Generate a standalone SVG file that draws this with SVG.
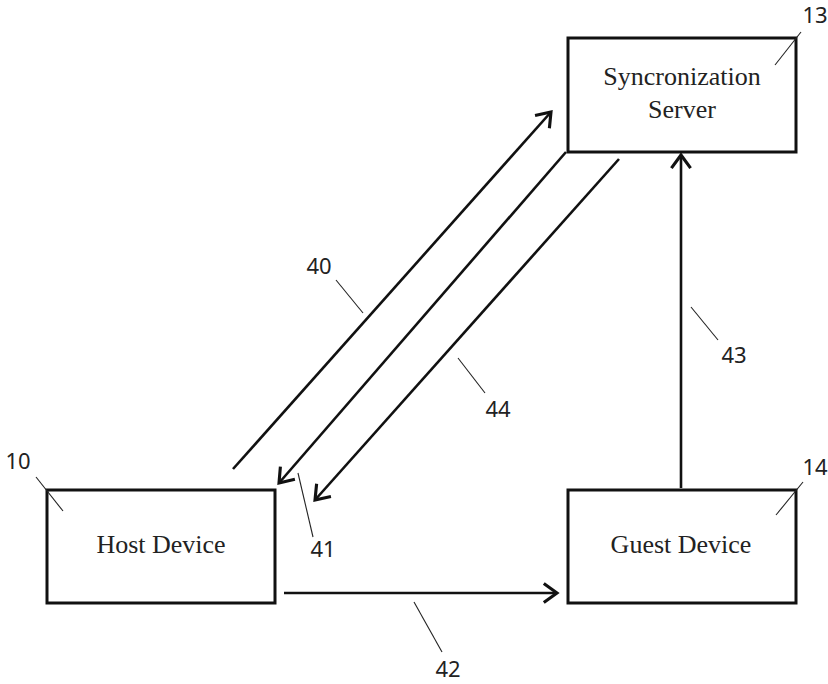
<svg xmlns="http://www.w3.org/2000/svg" width="828" height="684" viewBox="0 0 828 684">
<defs>
<style>
.box{fill:#fff;stroke:#111;stroke-width:3}
.lbl{font-family:"Liberation Serif","Times New Roman",serif;font-size:26px;fill:#222;text-anchor:middle}
.num{font-family:"Noto Sans","DejaVu Sans",sans-serif;font-size:22px;fill:#222;text-anchor:middle}
.conn{stroke:#111;stroke-width:2.6;fill:none;marker-end:url(#arr)}
.lead{stroke:#222;stroke-width:1.1;fill:none}
</style>
<marker id="arr" markerUnits="userSpaceOnUse" markerWidth="24" markerHeight="24" viewBox="-14 -10 16 20" refX="0" refY="0" orient="auto">
<path d="M-11,-8 L0,0 L-11,8" fill="none" stroke="#111" stroke-width="2.6"/>
</marker>
</defs>
<rect width="828" height="684" fill="#fff"/>
<g id="server">
<rect class="box" x="568" y="38" width="228" height="114"/>
<text class="lbl" x="682" y="85">Syncronization</text>
<text class="lbl" x="682" y="118">Server</text>
<line class="lead" x1="801" y1="32" x2="775" y2="65"/>
<text class="num" x="815" y="23">13</text>
</g>
<g id="host">
<rect class="box" x="47" y="490" width="228" height="113"/>
<text class="lbl" x="161" y="553">Host Device</text>
<line class="lead" x1="36" y1="477" x2="63" y2="511"/>
<text class="num" x="18" y="469">10</text>
</g>
<g id="guest">
<rect class="box" x="568" y="490" width="228" height="113"/>
<text class="lbl" x="681" y="553">Guest Device</text>
<line class="lead" x1="803" y1="482" x2="776" y2="515"/>
<text class="num" x="815" y="475">14</text>
</g>
<g id="connectors">
<line class="conn" x1="233" y1="469" x2="551" y2="112"/>
<line class="conn" x1="566" y1="152" x2="279" y2="483"/>
<line class="conn" x1="619" y1="159" x2="315" y2="500"/>
<line class="conn" x1="284" y1="593" x2="557" y2="593"/>
<line class="conn" x1="681" y1="488" x2="681" y2="155"/>
</g>
<g id="labels">
<line class="lead" x1="336" y1="280" x2="363" y2="313"/>
<text class="num" x="319" y="274">40</text>
<line class="lead" x1="298" y1="473" x2="313" y2="537"/>
<text class="num" x="323" y="557">41</text>
<line class="lead" x1="414" y1="602" x2="442" y2="652"/>
<text class="num" x="448" y="677">42</text>
<line class="lead" x1="691" y1="307" x2="718" y2="340"/>
<text class="num" x="734" y="363">43</text>
<line class="lead" x1="458" y1="358" x2="485" y2="393"/>
<text class="num" x="498" y="417">44</text>
</g>
</svg>
